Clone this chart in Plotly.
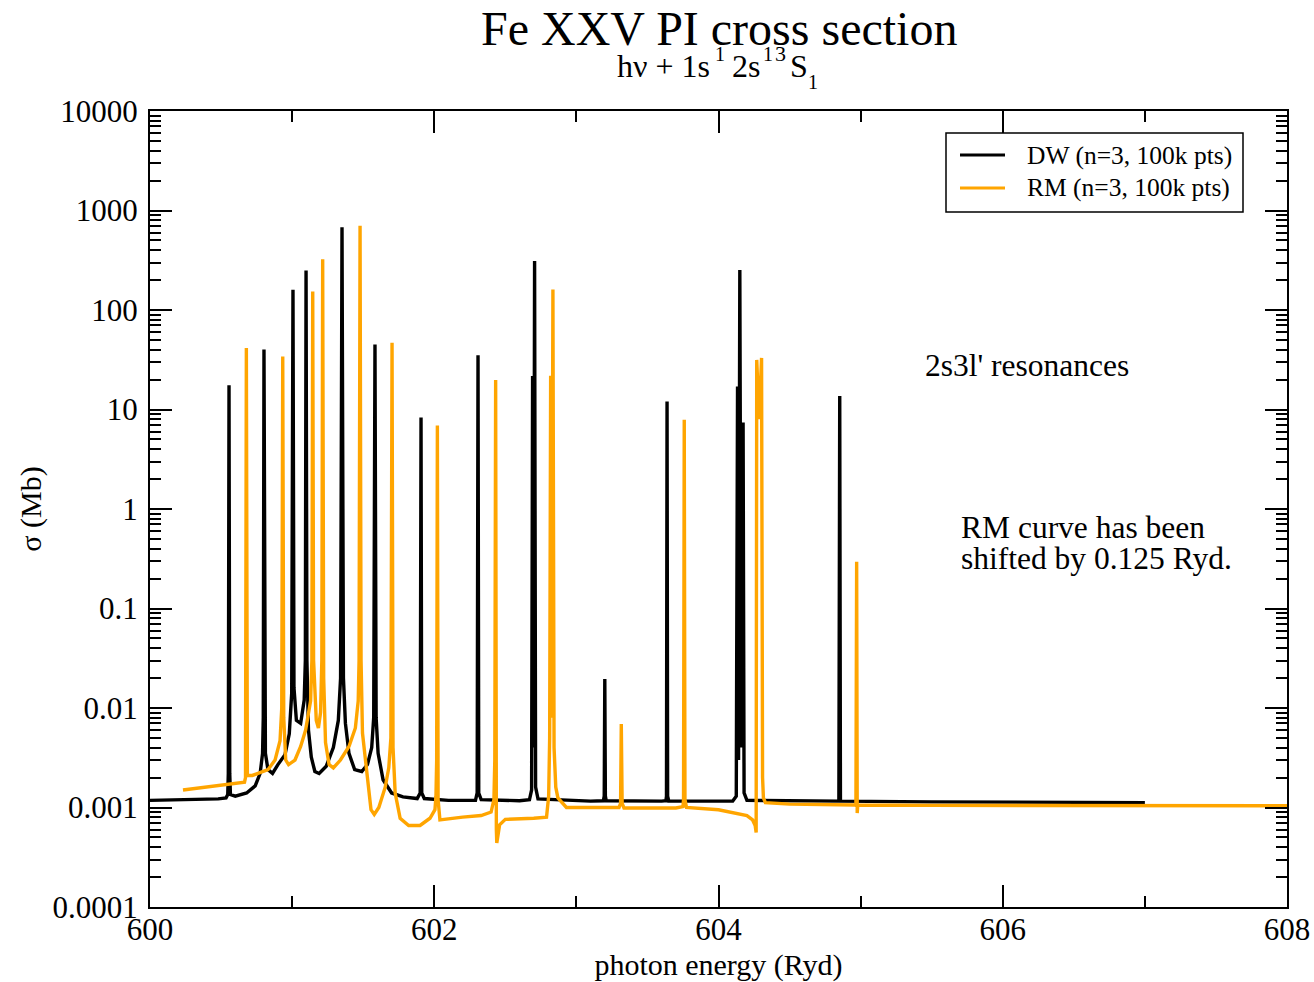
import plotly.graph_objects as go

# Photoionization cross section, distorted-wave (DW) calculation
dw_energy = [
    600.000, 600.300, 600.480, 600.535, 600.547, 600.551, 600.556, 600.561, 600.566,
    600.600, 600.680, 600.740, 600.775, 600.792, 600.797, 600.802, 600.807, 600.812,
    600.830, 600.862, 600.900, 600.950, 600.980, 600.997, 601.006, 601.013, 601.030,
    601.060, 601.085, 601.093, 601.098, 601.104, 601.115, 601.135, 601.160, 601.190,
    601.240, 601.290, 601.325, 601.341, 601.351, 601.361, 601.375, 601.400, 601.440,
    601.490, 601.530, 601.560, 601.574, 601.583, 601.591, 601.605, 601.640, 601.700,
    601.780, 601.880, 601.901, 601.907, 601.912, 601.930, 602.100, 602.290, 602.302,
    602.308, 602.313, 602.330, 602.600, 602.670, 602.685, 602.692, 602.699, 602.706,
    602.713, 602.730, 603.100, 603.190, 603.196, 603.200, 603.204, 603.210, 603.600,
    603.630, 603.634, 603.638, 603.642, 603.650, 604.100, 604.125, 604.134, 604.141,
    604.150, 604.160, 604.173, 604.180, 604.200, 604.800, 604.847, 604.853, 604.858,
    605.500, 606.300, 607.000,
]
dw_sigma = [
    0.00118, 0.00120, 0.00122, 0.00125, 0.00135, 0.0022, 17.5, 0.0022, 0.00135,
    0.00130, 0.00140, 0.00165, 0.0022, 0.0035, 0.008, 40.0, 0.008, 0.0035,
    0.0024, 0.0022, 0.0027, 0.0034, 0.0055, 0.014, 160.0, 0.016, 0.0075,
    0.0070, 0.012, 0.03, 250.0, 0.03, 0.006, 0.0032, 0.0023, 0.0022,
    0.0026, 0.0040, 0.0075, 0.02, 680.0, 0.02, 0.007, 0.0035, 0.0024,
    0.0023, 0.0027, 0.0040, 0.008, 45.0, 0.008, 0.0035, 0.0019, 0.00140,
    0.00128, 0.00123, 0.0014, 8.3, 0.0014, 0.00123, 0.00118, 0.00118, 0.0014,
    35.0, 0.0014, 0.00120, 0.00117, 0.00120, 0.0015, 21.7, 0.004, 311.0,
    0.0016, 0.00122, 0.00116, 0.00117, 0.0013, 0.0196, 0.0013, 0.00117, 0.00116,
    0.00117, 0.0013, 12.0, 0.0013, 0.00116, 0.00116, 0.0013, 17.0, 0.003,
    252.0, 0.004, 7.4, 0.0014, 0.00118, 0.00115, 0.00116, 13.7, 0.00116,
    0.00114, 0.00113, 0.00112,
]

# R-matrix (RM) calculation, shifted by 0.125 Ryd
rm_energy = [
    600.232, 600.400, 600.550, 600.665, 600.672, 600.678, 600.685, 600.720, 600.760,
    600.830, 600.880, 600.915, 600.927, 600.934, 600.941, 600.955, 600.975, 601.020,
    601.060, 601.095, 601.130, 601.139, 601.145, 601.151, 601.170, 601.185, 601.200,
    601.209, 601.215, 601.222, 601.235, 601.260, 601.290, 601.340, 601.400, 601.445,
    601.465, 601.471, 601.478, 601.485, 601.495, 601.530, 601.555, 601.578, 601.610,
    601.655, 601.680, 601.695, 601.703, 601.710, 601.725, 601.760, 601.820, 601.900,
    601.970, 602.005, 602.012, 602.017, 602.022, 602.027, 602.040, 602.200, 602.330,
    602.400, 602.420, 602.426, 602.432, 602.437, 602.440, 602.460, 602.500, 602.700,
    602.790, 602.805, 602.812, 602.819, 602.826, 602.835, 602.843, 602.855, 602.870,
    602.930, 603.200, 603.300, 603.311, 603.316, 603.322, 603.335, 603.700, 603.750,
    603.754, 603.759, 603.764, 603.775, 604.000, 604.200, 604.240, 604.258, 604.265,
    604.269, 604.286, 604.303, 604.310, 604.316, 604.330, 604.500, 604.960, 604.967,
    604.972, 604.976, 604.980, 605.500, 606.500, 608.000,
]
rm_sigma = [
    0.00150, 0.00160, 0.00170, 0.00180, 0.0020, 41.5, 0.0021, 0.0021, 0.0022,
    0.0024, 0.0030, 0.0047, 0.010, 34.0, 0.008, 0.0030, 0.0027, 0.0030,
    0.0041, 0.006, 0.0118, 0.03, 153.0, 0.03, 0.0075, 0.0063, 0.009,
    0.03, 323.0, 0.02, 0.0045, 0.0027, 0.0025, 0.0030, 0.0041, 0.0063,
    0.0118, 0.03, 703.0, 0.03, 0.0056, 0.0018, 0.00095, 0.00085, 0.0010,
    0.0016, 0.0025, 0.005, 47.0, 0.004, 0.0014, 0.00078, 0.00066, 0.00066,
    0.00078, 0.00095, 0.0013, 0.003, 6.9, 0.0012, 0.00075, 0.00080, 0.00083,
    0.00090, 0.0012, 0.003, 19.8, 0.0006, 0.00044, 0.00067, 0.00076, 0.00078,
    0.00080, 0.0013, 0.005, 21.9, 0.008, 161.0, 0.004, 0.0016, 0.00125,
    0.00100, 0.00099, 0.00100, 0.0011, 0.0069, 0.0011, 0.00099, 0.00099, 0.00102,
    0.0012, 7.9, 0.0012, 0.00100, 0.00095, 0.00083, 0.00075, 0.00066, 0.00056,
    31.5, 8.0, 33.0, 0.002, 0.00125, 0.00112, 0.00108, 0.00106, 0.00105,
    0.295, 0.00088, 0.00106, 0.00105, 0.00105, 0.00104,
]

x_ticks = [600, 602, 604, 606, 608]
y_ticks = [1e-4, 1e-3, 1e-2, 1e-1, 1, 10, 100, 1000, 10000]
y_tick_text = ["0.0001", "0.001", "0.01", "0.1", "1", "10", "100", "1000", "10000"]

series_names = ["DW (n=3, 100k pts)", "RM (n=3, 100k pts)"]
series_colors = ["black", "#FFA500"]

SERIF = "Liberation Serif, Times New Roman, serif"
INK = "black"

# plot area in page pixels
L, R, T, B = 150, 1287, 111, 907


def px(x):
    return (x - L) / (R - L)


def py(y):
    return (B - y) / (B - T)


fig = go.Figure()
for xs, ys, name, color in [(dw_energy, dw_sigma, series_names[0], series_colors[0]),
                            (rm_energy, rm_sigma, series_names[1], series_colors[1])]:
    fig.add_trace(go.Scatter(x=xs, y=ys, mode="lines", name=name,
                             line=dict(color=color, width=3.4), showlegend=False))

axis_common = dict(
    ticks="inside", ticklen=22, tickwidth=1.5, tickcolor=INK,
    showline=True, linecolor=INK, linewidth=2, mirror="ticks",
    showgrid=False, zeroline=False, automargin=False,
    tickfont=dict(family=SERIF, size=31, color=INK),
)


def label(text, x, y, size, xanchor="left", yanchor="middle"):
    return dict(text=text, x=px(x), y=py(y), xref="paper", yref="paper",
                xanchor=xanchor, yanchor=yanchor, showarrow=False,
                font=dict(family=SERIF, size=size, color=INK))


annotations = [
    label("Fe XXV PI cross section", 718.5, 28, 48, xanchor="center"),
    # subtitle: hν + 1s¹ 2s¹ ³S₁
    label("hν + 1s", 615, 66, 32),
    label("1", 713, 54, 20),
    label("2s", 730, 66, 32),
    label("1", 761, 54, 20),
    label("3", 773, 54, 22),
    label("S", 788, 66, 32),
    label("1", 806, 82, 20),
    label("2s3l' resonances", 923, 365, 31.5),
    label("RM curve has been", 959, 527, 31.5),
    label("shifted by 0.125 Ryd.", 959, 558, 31.5),
]

# legend box with line samples
shapes = [dict(type="rect", xref="paper", yref="paper",
               x0=px(946), x1=px(1243), y0=py(212), y1=py(133),
               line=dict(color=INK, width=1.5), fillcolor="white", layer="above")]
for i, (name, color) in enumerate(zip(series_names, series_colors)):
    yrow = 155 + 33 * i
    shapes.append(dict(type="line", xref="paper", yref="paper",
                       x0=px(960), x1=px(1005), y0=py(yrow), y1=py(yrow),
                       line=dict(color=color, width=3), layer="above"))
    annotations.append(label(name, 1025, yrow, 25.5))

fig.update_layout(
    width=1314, height=982,
    margin=dict(l=L, r=1314 - R, t=T, b=982 - B),
    plot_bgcolor="white", paper_bgcolor="white",
    showlegend=False,
    xaxis=dict(
        range=[600, 608], tickvals=x_ticks, ticktext=[str(v) for v in x_ticks],
        ticklabelstandoff=-6,
        minor=dict(ticks="inside", ticklen=11, tickwidth=1.5, tickcolor=INK,
                   tick0=600, dtick=1, showgrid=False),
        title=dict(text="photon energy (Ryd)", font=dict(family=SERIF, size=30, color=INK),
                   standoff=8),
        **axis_common,
    ),
    yaxis=dict(
        type="log", range=[-4, 4], tickvals=y_ticks, ticktext=y_tick_text,
        ticklabelstandoff=4,
        minor=dict(ticks="inside", ticklen=11, tickwidth=1.5, tickcolor=INK,
                   dtick="D1", showgrid=False),
        title=dict(text="σ (Mb)", font=dict(family=SERIF, size=30, color=INK),
                   standoff=2),
        **axis_common,
    ),
    annotations=annotations,
    shapes=shapes,
)

fig.write_html("out.html")
